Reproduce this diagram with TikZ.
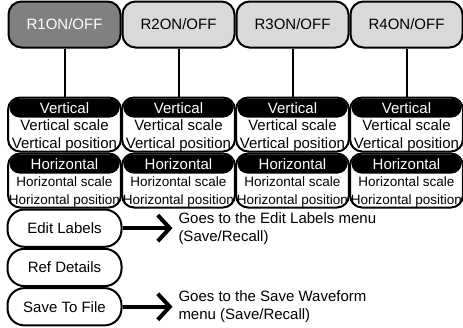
\documentclass[tikz,border=0pt]{standalone}
\usepackage{fontspec}
\setmainfont{Liberation Sans}
\usepackage{xcolor}
\usetikzlibrary{arrows.meta,positioning}
\definecolor{refdark}{gray}{0.5}
\definecolor{reflight}{gray}{0.85}

\begin{document}
\begin{tikzpicture}[x=1pt,y=-1pt,node distance=0pt,line width=2pt]
  \tikzstyle{refbtn}=[draw,rounded corners=13pt,minimum width=112pt,minimum height=46pt,fill=reflight,font=\fontsize{15}{18}\selectfont]
  \tikzstyle{grpbox}=[draw,fill=white,rounded corners=12pt,minimum width=112.8pt,minimum height=54pt]
  \tikzstyle{grphead}=[fill=black,text=white,rounded corners=10pt,minimum width=110pt,minimum height=19pt,inner sep=0pt,anchor=north,font=\fontsize{15}{18}\selectfont]
  \tikzstyle{grptext}=[align=center,inner sep=1pt]
  \tikzstyle{menubtn}=[draw,rounded corners=17pt,minimum width=114pt,minimum height=37.3pt,font=\fontsize{15}{18}\selectfont]
  \tikzstyle{note}=[align=left,inner sep=0pt,font=\fontsize{15}{18}\selectfont]
  \tikzstyle{menuarrow}=[-{Straight Barb[length=12pt,width=26pt]},line width=4pt,shorten >=5pt]
  \useasboundingbox (0,0) rectangle (463,327);
  % reference on/off keys
  \node[refbtn,fill=refdark,text=white] (r1) at (64.5,24.5) {R1ON/OFF};
  \node[refbtn,right=0pt of r1] (r2) {R2ON/OFF};
  \node[refbtn,right=0pt of r2] (r3) {R3ON/OFF};
  \node[refbtn,right=0pt of r3] (r4) {R4ON/OFF};
  % vertical groups
  \node[grpbox,below=48pt of r1] (v1) {};
  \node[grpbox,below=48pt of r2] (v2) {};
  \node[grpbox,below=48pt of r3] (v3) {};
  \node[grpbox,below=48pt of r4] (v4) {};
  \node[grphead] (v1head) at ([yshift=-1pt]v1.north) {Vertical};
  \node[grphead] (v2head) at ([yshift=-1pt]v2.north) {Vertical};
  \node[grphead] (v3head) at ([yshift=-1pt]v3.north) {Vertical};
  \node[grphead] (v4head) at ([yshift=-1pt]v4.north) {Vertical};
  \tikzset{font=\fontsize{15}{18}\selectfont}
  \node[grptext,below=-1pt of v1head] (v1text) {Vertical scale\\Vertical position};
  \node[grptext,below=-1pt of v2head] (v2text) {Vertical scale\\Vertical position};
  \node[grptext,below=-1pt of v3head] (v3text) {Vertical scale\\Vertical position};
  \node[grptext,below=-1pt of v4head] (v4text) {Vertical scale\\Vertical position};
  % horizontal groups
  \node[grpbox,below=of v1] (h1) {};
  \node[grpbox,below=of v2] (h2) {};
  \node[grpbox,below=of v3] (h3) {};
  \node[grpbox,below=of v4] (h4) {};
  \node[grphead] (h1head) at ([yshift=-1pt]h1.north) {Horizontal};
  \node[grphead] (h2head) at ([yshift=-1pt]h2.north) {Horizontal};
  \node[grphead] (h3head) at ([yshift=-1pt]h3.north) {Horizontal};
  \node[grphead] (h4head) at ([yshift=-1pt]h4.north) {Horizontal};
  \tikzset{font=\fontsize{13.5}{18}\selectfont}
  \node[grptext,below=0pt of h1head] (h1text) {Horizontal scale\\Horizontal position};
  \node[grptext,below=0pt of h2head] (h2text) {Horizontal scale\\Horizontal position};
  \node[grptext,below=0pt of h3head] (h3text) {Horizontal scale\\Horizontal position};
  \node[grptext,below=0pt of h4head] (h4text) {Horizontal scale\\Horizontal position};
  % menu keys
  \node[menubtn,below=of h1] (edit) {Edit Labels};
  \node[menubtn,below=of edit] (details) {Ref Details};
  \node[menubtn,below=of details] (save) {Save To File};
  \node[note,right=55pt of edit] (editnote) {Goes to the Edit Labels menu\\(Save/Recall)};
  \node[note,right=55pt of save] (savenote) {Goes to the Save Waveform\\menu (Save/Recall)};
  \draw (r1) -- (v1);
  \draw (r2) -- (v2);
  \draw (r3) -- (v3);
  \draw (r4) -- (v4);
  \draw[menuarrow] (edit) -- (editnote);
  \draw[menuarrow] (save) -- (savenote);
\end{tikzpicture}
\end{document}
